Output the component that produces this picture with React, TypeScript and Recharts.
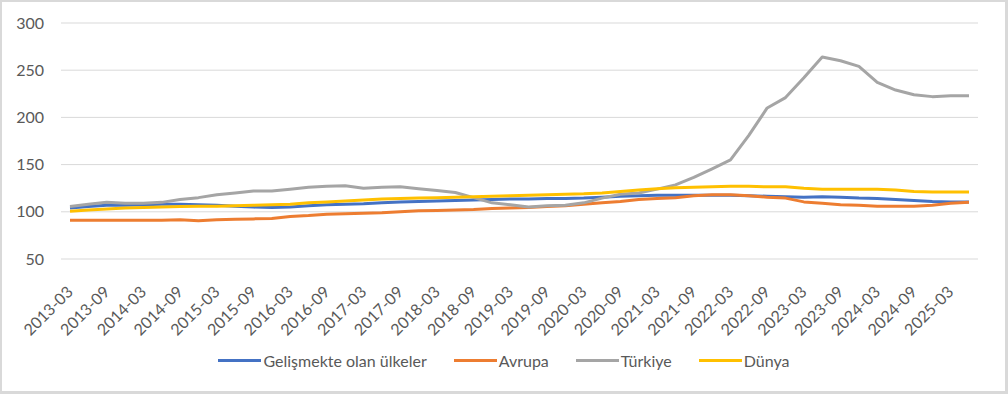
import React from 'react';
import { LineChart, Line, XAxis, YAxis, CartesianGrid, Legend } from 'recharts';

const quarters: string[] = [
  '2013-03', '2013-06', '2013-09', '2013-12', '2014-03', '2014-06', '2014-09', '2014-12',
  '2015-03', '2015-06', '2015-09', '2015-12', '2016-03', '2016-06', '2016-09', '2016-12',
  '2017-03', '2017-06', '2017-09', '2017-12', '2018-03', '2018-06', '2018-09', '2018-12',
  '2019-03', '2019-06', '2019-09', '2019-12', '2020-03', '2020-06', '2020-09', '2020-12',
  '2021-03', '2021-06', '2021-09', '2021-12', '2022-03', '2022-06', '2022-09', '2022-12',
  '2023-03', '2023-06', '2023-09', '2023-12', '2024-03', '2024-06', '2024-09', '2024-12',
  '2025-03', '2025-06',
];

const gelismekte: number[] = [
  104, 105.5, 107, 107, 107.5, 108, 108, 107.5, 107, 106,
  105, 104.5, 105, 106.5, 107.5, 108, 108.5, 109.5, 110.5, 111,
  111.5, 112, 112.5, 113, 113.5, 113.5, 114, 114, 114.5, 115.5,
  116.5, 117, 117.5, 117.5, 117.5, 117.5, 117.5, 117, 116.5, 116,
  115.5, 116, 115.5, 114.5, 114, 113, 112, 111, 110.5, 110.5,
];

const avrupa: number[] = [
  91, 91, 91, 91, 91, 91, 91.5, 90.5, 91.5, 92,
  92.5, 93, 95, 96, 97.5, 98, 98.5, 99, 100, 101,
  101.5, 102, 102.5, 103.5, 104, 104.5, 105.5, 106.5, 108, 109.5,
  111, 113, 114, 115, 117, 118, 118, 117, 115.5, 114.5,
  110.5, 109, 107.5, 107, 106, 106, 106, 107, 109, 110,
];

const turkiye: number[] = [
  105.5, 108, 110, 109, 109, 110, 113, 115, 118, 120,
  122, 122, 124, 126, 127, 127.5, 125, 126, 126.5, 124.5,
  122.5, 120.5, 115, 109.5, 107.5, 105, 106.5, 107, 109.5, 114.5,
  118.5, 120, 124, 128.5, 136.5, 145.5, 155, 181, 210, 221,
  242, 264, 260, 254, 237, 229, 224, 222, 223, 223,
];

const dunya: number[] = [
  100.5, 102, 103, 104, 104.5, 105, 105.5, 106, 106, 106.5,
  107, 107.5, 108, 109.5, 110.5, 111.5, 112.5, 113.5, 114, 114.5,
  115, 115.5, 116, 116.5, 117, 117.5, 118, 118.5, 119, 120,
  121.5, 123, 124.5, 125.5, 126, 126.5, 127, 127, 126.5, 126.5,
  125, 124, 124, 124, 124, 123, 121.5, 121, 121, 121,
];

const yTicks = [50, 100, 150, 200, 250, 300];

const seriesList = [
  { key: 'gelismekte', name: 'Gelişmekte olan ülkeler', color: '#4472C4' },
  { key: 'avrupa', name: 'Avrupa', color: '#ED7D31' },
  { key: 'turkiye', name: 'Türkiye', color: '#A5A5A5' },
  { key: 'dunya', name: 'Dünya', color: '#FFC000' },
];

const chartData = quarters.map((q, i) => ({
  quarter: q,
  gelismekte: gelismekte[i],
  avrupa: avrupa[i],
  turkiye: turkiye[i],
  dunya: dunya[i],
}));

const FONT = 'Lato, "Liberation Sans", sans-serif';

const QuarterTick = (props: any) => {
  const { x, y, payload } = props;
  return (
    <g transform={`translate(${x + 4},${y + 26})`}>
      <text x={0} y={0} textAnchor="end" transform="rotate(-45)" fill="#595959" fontSize={16} fontFamily={FONT}>
        {payload.value}
      </text>
    </g>
  );
};

const renderLegend = () => (
  <div style={{ display: 'flex', justifyContent: 'center', alignItems: 'center', gap: 27, fontFamily: FONT, fontSize: 16, color: '#595959' }}>
    {seriesList.map((s) => (
      <div key={s.key} style={{ display: 'flex', alignItems: 'center' }}>
        <div style={{ width: 43, height: 3, backgroundColor: s.color, marginRight: 2 }} />
        <span>{s.name}</span>
      </div>
    ))}
  </div>
);

export default function App() {
  return (
    <div
      style={{
        position: 'absolute',
        left: 0,
        top: 0,
        width: 1008,
        height: 394,
        boxSizing: 'border-box',
        borderTop: '2px solid #D9D9D9',
        borderLeft: '2px solid #D9D9D9',
        borderRight: '3px solid #D9D9D9',
        borderBottom: '3px solid #D9D9D9',
        background: '#fff',
      }}
    >
      <div style={{ position: 'absolute', left: -2, top: -2 }}>
        <LineChart width={1008} height={394} data={chartData} margin={{ top: 23, right: 30, left: 0, bottom: 0 }}>
          <CartesianGrid vertical={false} stroke="#D9D9D9" />
          <XAxis
            dataKey="quarter"
            interval={1}
            height={135}
            axisLine={false}
            tickLine={false}
            padding={{ left: 9, right: 9 }}
            tick={<QuarterTick />}
          />
          <YAxis
            domain={[50, 300]}
            ticks={yTicks}
            width={61}
            axisLine={false}
            tickLine={false}
            tickMargin={11}
            tick={{ fill: '#595959', fontSize: 16, fontFamily: FONT }}
          />
          {seriesList.map((s) => (
            <Line
              key={s.key}
              type="linear"
              dataKey={s.key}
              name={s.name}
              stroke={s.color}
              strokeWidth={3}
              dot={false}
              strokeLinejoin="round"
              isAnimationActive={false}
            />
          ))}
          <Legend
            layout="vertical"
            align="center"
            verticalAlign="middle"
            content={renderLegend}
            wrapperStyle={{ top: 351, left: 0, width: 1008 }}
          />
        </LineChart>
      </div>
    </div>
  );
}
